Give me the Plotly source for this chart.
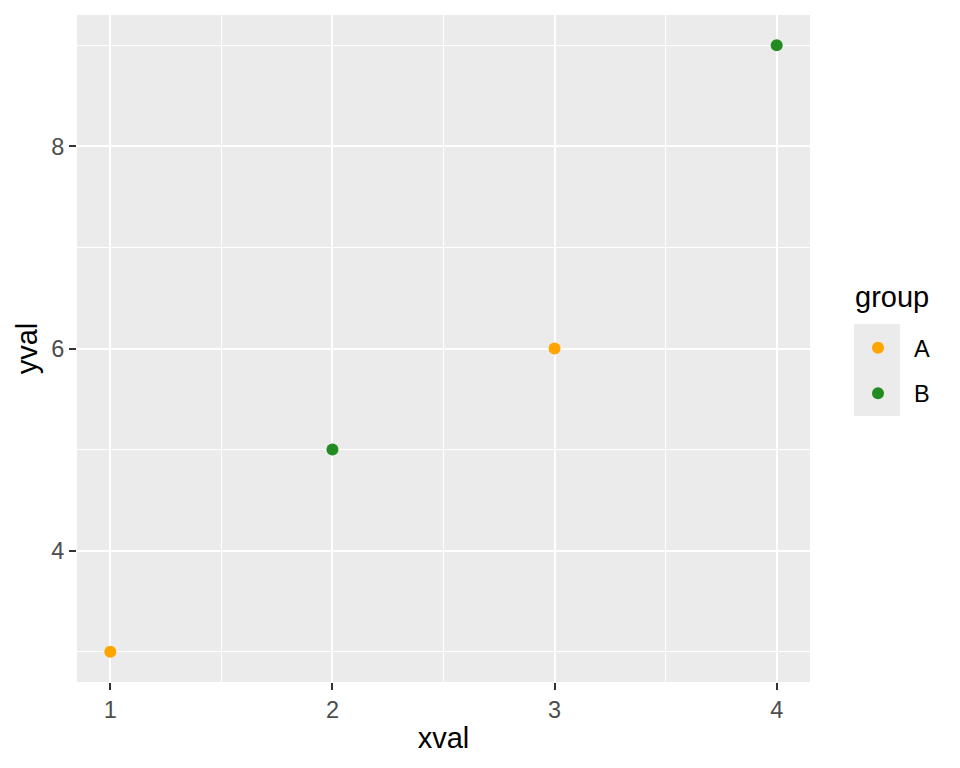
import plotly.graph_objects as go

xval = [1, 2, 3, 4]
yval = [3, 5, 6, 9]
group = ["A", "B", "A", "B"]
group_levels = ["A", "B"]
group_colors = {"A": "#FFA500", "B": "#228B22"}
x_ticks = [1, 2, 3, 4]
y_ticks = [4, 6, 8]

FONT = "Liberation Sans, Arial, sans-serif"

# page body has an 8px offset; compensate in margins
OFF = 8
L, R, T, B = 77, 810, 15, 682   # plot area in screen pixels
PW, PH = R - L, B - T

fig = go.Figure()
for g in group_levels:
    xs = [x for x, gg in zip(xval, group) if gg == g]
    ys = [y for y, gg in zip(yval, group) if gg == g]
    fig.add_trace(go.Scatter(
        x=xs, y=ys, mode="markers", name=g, legendgroup=g,
        marker=dict(color=group_colors[g], size=12, line=dict(width=0)),
    ))

axis_common = dict(
    showline=False, zeroline=False, gridcolor="white", gridwidth=2.1,
    ticks="outside", ticklen=7, tickwidth=2, tickcolor="#333333",
    tickfont=dict(family=FONT, size=23.5, color="#4D4D4D"),
    title_font=dict(family=FONT, size=29, color="black"),
)

fig.update_xaxes(
    range=[0.85, 4.15], tickvals=x_ticks, ticktext=[str(v) for v in x_ticks],
    minor=dict(tickvals=[1.5, 2.5, 3.5], showgrid=True, gridcolor="white", gridwidth=1, ticks=""),
    title=dict(text="xval", standoff=5), **axis_common,
)
fig.update_yaxes(
    range=[2.7, 9.3], tickvals=y_ticks, ticktext=[str(v) for v in y_ticks],
    minor=dict(tickvals=[3, 5, 7, 9], showgrid=True, gridcolor="white", gridwidth=1, ticks=""),
    title=dict(text="yval", standoff=5), **axis_common,
)

def px(xp):
    return (xp - L) / PW

def py(yp):
    return (B - yp) / PH

fig.add_shape(type="rect", xref="paper", yref="paper",
              x0=px(854), x1=px(900), y0=py(416), y1=py(324),
              fillcolor="#EBEBEB", line=dict(width=0), layer="below")

fig.add_annotation(text="group", xref="paper", yref="paper",
                   x=px(853), y=py(297), xanchor="left", yanchor="middle",
                   showarrow=False, font=dict(family=FONT, size=29, color="black"))

fig.update_layout(
    width=960, height=768,
    margin=dict(l=L - OFF, r=960 - R + OFF, t=T - OFF, b=768 - B + OFF),
    paper_bgcolor="white", plot_bgcolor="#EBEBEB",
    font=dict(family=FONT, color="black"),
    showlegend=True,
    legend=dict(
        font=dict(family=FONT, size=23.5, color="black"),
        x=px(842), xanchor="left",
        y=py(326), yanchor="top",
        bgcolor="rgba(0,0,0,0)", tracegroupgap=12,
        itemsizing="constant", itemwidth=62,
    ),
)

fig.write_html("out.html")
